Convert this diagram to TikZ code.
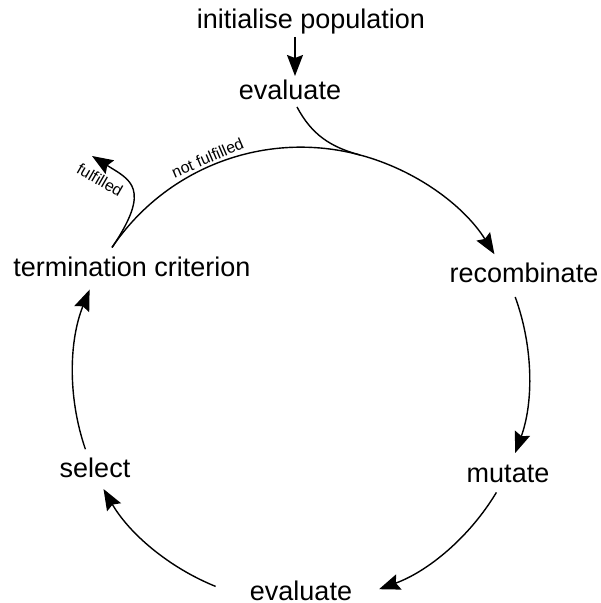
\documentclass[tikz,border=0pt]{standalone}
\usepackage{fontspec}
\setmainfont{Liberation Sans}[Ligatures=NoCommon]
\usetikzlibrary{arrows.meta}

\tikzset{
  stage/.style={font=\fontsize{13.5}{16}\selectfont, inner sep=0pt, anchor=base},
  cond/.style={font=\fontsize{8}{9.6}\selectfont, inner sep=1pt},
  loop/.style={line width=0.7pt},
  flow/.style={loop, -{Stealth[length=10.5pt, width=8pt, inset=1.5pt]}}
}

\begin{document}
\begin{tikzpicture}[x=0.5pt, y=0.5pt]
		\useasboundingbox (0,0) rectangle (600,-603);
		
		% Text Node
		\node[stage] (init) at (311,-29) {initialise population};
		% Text Node
		\node[stage] (evaltop) at (290,-100) {evaluate};
		% Text Node
		\node[stage] (recomb) at (524,-283) {recombinate};
		% Text Node
		\node[stage] (mutate) at (508,-482) {mutate};
		% Text Node
		\node[stage] (evalbot) at (301,-600) {evaluate};
		% Text Node
		\node[stage] (select) at (95,-477) {select};
		% Text Node
		\node[stage] (term) at (132,-277) {termination criterion};
		
		\coordinate (join) at (360,-155);
		\coordinate (exit) at (92,-156);
		
		% start of the loop
		\draw[flow] ([shift={(-16,-8)}]init.base) -- ([shift={(5,24)}]evaltop.base);
		\draw[flow] ([shift={(7,-7)}]evaltop.base) to[out=-62, in=165] (join)
			to[bend left=21.5, looseness=0.88] ([shift={(-29.6,28.8)}]recomb.base);
		
		% the cycle
		\draw[flow] ([shift={(-8.8,-14)}]recomb.base) to[bend left=20, looseness=0.88] ([shift={(7.2,29)}]mutate.base);
		\draw[flow] ([shift={(-11.6,-10.4)}]mutate.base) to[bend left=19.5, looseness=0.88] ([shift={(78,10.8)}]evalbot.base);
		\draw[flow] ([shift={(-85.4,13.6)}]evalbot.base) to[bend left=19, looseness=0.88] ([shift={(8.5,-12)}]select.base);
		\draw[flow] ([shift={(-9.6,27.8)}]select.base) to[bend left=20.5, looseness=0.88] ([shift={(-42.4,-12.6)}]term.base);
		
		% termination check
		\draw[loop] ([shift={(-20,29.5)}]term.base) to[bend left=35.5, looseness=0.94]
			node[cond, pos=0.46, sloped, above] {not fulfilled} (join);
		\draw[flow] ([shift={(-20,29.5)}]term.base) .. controls +(56:72) and +(-32:45) .. (exit);
		\node[cond, rotate=-30] (done) at (100,-180) {fulfilled};
	\end{tikzpicture}
\end{document}
